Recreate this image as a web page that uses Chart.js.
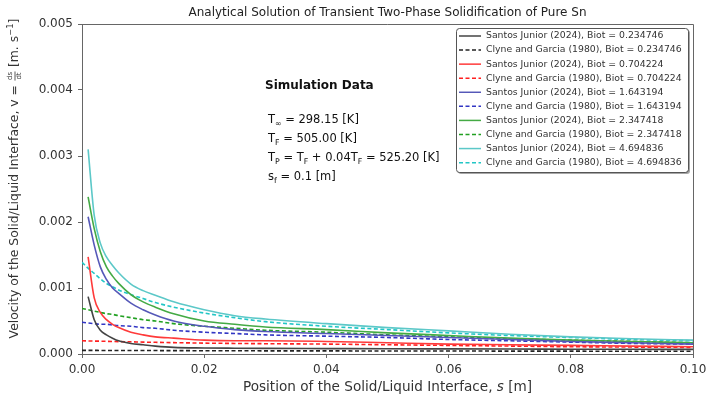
<!DOCTYPE html>
<html>
<head>
<meta charset="utf-8">
<script src="https://cdn.jsdelivr.net/npm/chart.js@4.4.1/dist/chart.umd.min.js"></script>
<style>
html,body{margin:0;padding:0;background:#fff;}
#wrap{width:708px;height:396px;}
</style>
</head>
<body>
<div id="wrap"><canvas id="c" width="708" height="396"></canvas></div>
<script>
// Position s [m]
const sPos = [0, 0.001, 0.002, 0.003, 0.004, 0.005, 0.006, 0.008, 0.010, 0.012, 0.015, 0.020, 0.025, 0.030, 0.040, 0.050, 0.060, 0.070, 0.080, 0.090, 0.100];

// Santos Junior (2024) — solid lines
const santos_0234746 = [null, 0.00087, 0.00052, 0.00036, 0.00029, 0.00024, 0.00020, 0.00016, 0.00014, 0.00012, 0.00010, 0.000092, 0.000088, 0.000085, 0.000082, 0.000079, 0.000077, 0.000075, 0.000073, 0.000071, 0.000070];
const santos_0704224 = [null, 0.00147, 0.00085, 0.00063, 0.00052, 0.00045, 0.00040, 0.00033, 0.00029, 0.00026, 0.00024, 0.00021, 0.00020, 0.00020, 0.00019, 0.00017, 0.00015, 0.00014, 0.00013, 0.00012, 0.00011];
const santos_1643194 = [null, 0.00208, 0.00165, 0.00132, 0.00113, 0.00100, 0.00092, 0.00077, 0.00067, 0.00059, 0.00050, 0.00042, 0.00037, 0.00034, 0.00031, 0.00028, 0.00025, 0.00022, 0.00019, 0.00017, 0.00015];
const santos_2347418 = [null, 0.00238, 0.00190, 0.00155, 0.00132, 0.00118, 0.00107, 0.00090, 0.00079, 0.00071, 0.00061, 0.00050, 0.00045, 0.00041, 0.00037, 0.00032, 0.00028, 0.00024, 0.00021, 0.00019, 0.00017];
const santos_4694836 = [null, 0.00310, 0.00210, 0.00168, 0.00147, 0.00134, 0.00123, 0.00106, 0.00096, 0.00089, 0.00079, 0.00067, 0.00058, 0.00053, 0.00046, 0.00040, 0.00035, 0.00030, 0.00026, 0.00023, 0.00021];

// Clyne and Garcia (1980) — dashed lines
const clyne_0234746 = [0.000055, 0.000055, 0.000055, 0.000054, 0.000054, 0.000054, 0.000053, 0.000053, 0.000052, 0.000052, 0.000051, 0.000050, 0.000049, 0.000048, 0.000047, 0.000046, 0.000045, 0.000044, 0.000043, 0.000042, 0.000041];
const clyne_0704224 = [0.00020, 0.000198, 0.000196, 0.000194, 0.000192, 0.00019, 0.000188, 0.000185, 0.00018, 0.000177, 0.000172, 0.000165, 0.00016, 0.000156, 0.00015, 0.00014, 0.00013, 0.00012, 0.00011, 0.000105, 0.00010];
const clyne_1643194 = [0.00048, 0.00047, 0.00046, 0.00045, 0.00045, 0.00044, 0.00043, 0.00042, 0.00040, 0.00039, 0.00036, 0.00033, 0.00031, 0.00029, 0.00027, 0.00025, 0.00022, 0.00020, 0.00018, 0.00016, 0.00015];
const clyne_2347418 = [0.00069, 0.00067, 0.00065, 0.00063, 0.00061, 0.00060, 0.00058, 0.00055, 0.00052, 0.00050, 0.00046, 0.00042, 0.00039, 0.00036, 0.00033, 0.00029, 0.00026, 0.00023, 0.00021, 0.00019, 0.00017];
const clyne_4694836 = [0.00139, 0.00130, 0.00122, 0.00114, 0.00107, 0.00102, 0.00097, 0.00090, 0.00084, 0.00078, 0.00071, 0.00062, 0.00055, 0.00049, 0.00042, 0.00037, 0.00032, 0.00028, 0.00025, 0.00022, 0.00020];

const xTicks = [0.00, 0.02, 0.04, 0.06, 0.08, 0.10];
const yTicks = [0.000, 0.001, 0.002, 0.003, 0.004, 0.005];

const FONT = "'DejaVu Sans', sans-serif";

function pts(arr){ return sPos.map((x,i)=>({x:x, y:arr[i]})); }

function ds(label, arr, color, dashed){
  return {
    label: label,
    data: pts(arr),
    borderColor: color,
    backgroundColor: color,
    borderWidth: 1.6,
    borderDash: dashed ? [4, 2.5] : [],
    pointRadius: 0,
    fill: false,
    cubicInterpolationMode: 'monotone',
    spanGaps: false
  };
}

const datasets = [
  ds('Santos Junior (2024), Biot = 0.234746', santos_0234746, '#444444', false),
  ds('Clyne and Garcia (1980), Biot = 0.234746', clyne_0234746, '#222222', true),
  ds('Santos Junior (2024), Biot = 0.704224', santos_0704224, '#ff3a3a', false),
  ds('Clyne and Garcia (1980), Biot = 0.704224', clyne_0704224, '#ff2020', true),
  ds('Santos Junior (2024), Biot = 1.643194', santos_1643194, '#5558b8', false),
  ds('Clyne and Garcia (1980), Biot = 1.643194', clyne_1643194, '#3236c4', true),
  ds('Santos Junior (2024), Biot = 2.347418', santos_2347418, '#44aa44', false),
  ds('Clyne and Garcia (1980), Biot = 2.347418', clyne_2347418, '#22a022', true),
  ds('Santos Junior (2024), Biot = 4.694836', santos_4694836, '#5cc8c8', false),
  ds('Clyne and Garcia (1980), Biot = 4.694836', clyne_4694836, '#22c6c6', true)
];

function fontFor(k,size){
  if (k==='sub'||k==='sup') return (size*0.68).toFixed(1)+'px '+FONT;
  if (k==='it') return 'oblique '+size+'px '+FONT;
  if (k==='b') return 'bold '+size+'px '+FONT;
  return size+'px '+FONT;
}
function richWidth(ctx, parts, size){
  let w = 0;
  for (const [t,k] of parts){
    ctx.font = fontFor(k,size);
    w += ctx.measureText(t).width;
  }
  return w;
}
function drawRich(ctx, parts, x, y, size){
  ctx.textBaseline = 'middle';
  ctx.textAlign = 'left';
  for (const [t,k] of parts){
    ctx.font = fontFor(k,size);
    let dy = 0;
    if (k==='sub') dy = size*0.32;
    if (k==='sup') dy = -size*0.35;
    ctx.fillText(t, x, y+dy);
    x += ctx.measureText(t).width;
  }
  return x;
}

const decor = {
  id: 'decor',
  afterDraw(chart){
    const ctx = chart.ctx;
    const a = chart.chartArea;
    ctx.save();
    // top & right spines
    ctx.strokeStyle = '#666';
    ctx.lineWidth = 1;
    ctx.beginPath();
    ctx.moveTo(a.left, a.top+0.5); ctx.lineTo(a.right+0.5, a.top+0.5);
    ctx.lineTo(a.right+0.5, a.bottom);
    ctx.stroke();

    // title
    ctx.fillStyle = '#222';
    ctx.font = '12px '+FONT;
    ctx.textAlign = 'center';
    ctx.textBaseline = 'middle';
    ctx.fillText('Analytical Solution of Transient Two-Phase Solidification of Pure Sn', (a.left+a.right)/2, 13);

    // x label
    ctx.fillStyle = '#333';
    const xl = [['Position of the Solid/Liquid Interface, ','n'],['s','it'],[' [m]','n']];
    const xs = 13.6;
    const xw = richWidth(ctx, xl, xs);
    drawRich(ctx, xl, (a.left+a.right)/2 - xw/2, 387, xs);

    // y label (rotated)
    ctx.save();
    ctx.translate(15, 178.5);
    ctx.rotate(-Math.PI/2);
    const ys = 12.4;
    const p1 = [['Velocity of the Solid/Liquid Interface, v = ','n']];
    const p2 = [[' [m. s','n'],['\u22121','sup'],[']','n']];
    ctx.font = '7px '+FONT;
    const fw = Math.max(ctx.measureText('ds').width, ctx.measureText('dt').width);
    const total = richWidth(ctx,p1,ys) + fw + 2 + richWidth(ctx,p2,ys);
    let x = -total/2;
    x = drawRich(ctx, p1, x, 0, ys);
    ctx.font = '7px '+FONT;
    ctx.textAlign = 'center';
    ctx.textBaseline = 'middle';
    ctx.fillText('ds', x+1+fw/2, -4.5);
    ctx.fillText('dt', x+1+fw/2, 4.5);
    ctx.fillRect(x+0.5, -0.4, fw+1, 0.8);
    x += fw + 2;
    drawRich(ctx, p2, x, 0, ys);
    ctx.restore();

    // simulation data text
    ctx.fillStyle = '#111';
    ctx.font = 'bold 12px '+FONT;
    ctx.textAlign = 'left';
    ctx.textBaseline = 'middle';
    ctx.fillText('Simulation Data', 265, 86);
    const S = 11.5;
    drawRich(ctx, [['T','n'],['\u221e','sub'],[' = 298.15 [K]','n']], 268, 120, S);
    drawRich(ctx, [['T','n'],['F','sub'],[' = 505.00 [K]','n']], 268, 139, S);
    drawRich(ctx, [['T','n'],['P','sub'],[' = T','n'],['F','sub'],[' + 0.04T','n'],['F','sub'],[' = 525.20 [K]','n']], 268, 158, S);
    drawRich(ctx, [['s','n'],['f','sub'],[' = 0.1 [m]','n']], 268, 177, S);

    // legend
    const lx = 456, ly = 28, lw = 232, lh = 144;
    ctx.fillStyle = 'rgba(0,0,0,0.35)';
    roundRect(ctx, lx+2, ly+2, lw, lh, 3); ctx.fill();
    ctx.fillStyle = '#fff';
    roundRect(ctx, lx, ly, lw, lh, 3); ctx.fill();
    ctx.strokeStyle = '#555';
    ctx.lineWidth = 1;
    roundRect(ctx, lx+0.5, ly+0.5, lw, lh, 3); ctx.stroke();
    chart.data.datasets.forEach((d,i)=>{
      const yy = 36 + i*14.07;
      ctx.strokeStyle = d.borderColor;
      ctx.lineWidth = 1.5;
      ctx.setLineDash(d.borderDash.length ? [4,2.5] : []);
      ctx.beginPath(); ctx.moveTo(459, yy); ctx.lineTo(481, yy); ctx.stroke();
      ctx.setLineDash([]);
      ctx.fillStyle = '#333';
      ctx.font = '9.3px '+FONT;
      ctx.textAlign = 'left';
      ctx.textBaseline = 'middle';
      ctx.fillText(d.label, 486, yy);
    });
    ctx.restore();
  }
};
function roundRect(ctx,x,y,w,h,r){
  ctx.beginPath();
  ctx.moveTo(x+r,y); ctx.lineTo(x+w-r,y); ctx.quadraticCurveTo(x+w,y,x+w,y+r);
  ctx.lineTo(x+w,y+h-r); ctx.quadraticCurveTo(x+w,y+h,x+w-r,y+h);
  ctx.lineTo(x+r,y+h); ctx.quadraticCurveTo(x,y+h,x,y+h-r);
  ctx.lineTo(x,y+r); ctx.quadraticCurveTo(x,y,x+r,y);
  ctx.closePath();
}

new Chart(document.getElementById('c'), {
  type: 'line',
  data: { datasets: datasets },
  plugins: [decor],
  options: {
    responsive: false,
    animation: false,
    devicePixelRatio: 1,
    layout: { padding: { left: 0, right: 15, top: 24, bottom: 0 } },
    plugins: { legend: { display: false }, tooltip: { enabled: false }, title: { display: false } },
    scales: {
      x: {
        type: 'linear', min: 0, max: 0.1,
        afterBuildTicks(s){ s.ticks = xTicks.map(v=>({value:v})); },
        afterFit(s){ s.height = 42; s.paddingRight = 0; s.paddingLeft = 0; },
        ticks: { callback: v => v.toFixed(2), color: '#333', font: { family: FONT, size: 12 }, padding: 5, maxRotation: 0, autoSkip: false },
        grid: { display: true, drawOnChartArea: false, drawTicks: true, tickLength: 4, color: '#666' },
        border: { display: true, color: '#666', width: 1 }
      },
      y: {
        type: 'linear', min: 0, max: 0.005,
        afterBuildTicks(s){ s.ticks = yTicks.map(v=>({value:v})); },
        afterFit(s){ s.width = 82; s.paddingTop = 0; s.paddingBottom = 0; },
        ticks: { callback: v => v.toFixed(3), color: '#333', font: { family: FONT, size: 12 }, padding: 5, autoSkip: false },
        grid: { display: true, drawOnChartArea: false, drawTicks: true, tickLength: 4, color: '#666' },
        border: { display: true, color: '#666', width: 1 }
      }
    }
  }
});
</script>
</body>
</html>
